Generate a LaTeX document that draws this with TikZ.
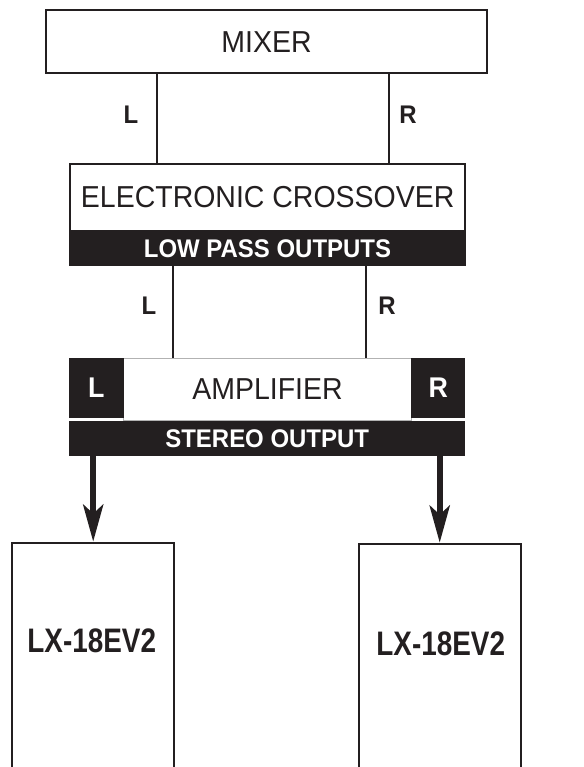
\documentclass[tikz,border=0pt]{standalone}
\usepackage{fontspec}
\setmainfont[FakeStretch=0.94]{Liberation Sans}
\newfontfamily\spkfont[FakeStretch=0.82]{Liberation Sans}
\usetikzlibrary{arrows.meta,positioning}
\definecolor{ink}{HTML}{231F20}

\begin{document}
\begin{tikzpicture}[x=1pt, y=-1pt,
  unit/.style={draw=ink, line width=2pt, fill=white, text=ink,
    font=\fontsize{30.3}{32}\selectfont, inner sep=0pt},
  band/.style={fill=ink, text=white, inner sep=0pt,
    font=\bfseries\fontsize{25.5}{27}\selectfont},
  chan/.style={fill=ink, text=white, inner sep=0pt,
    font=\bfseries\fontsize{28.5}{30}\selectfont},
  side/.style={text=ink, font=\bfseries\fontsize{25.5}{27}\selectfont},
  wire/.style={draw=ink, line width=2pt},
  feed/.style={draw=ink, line width=6pt,
    -{Stealth[length=37pt, width=20pt, inset=9pt]}},
  spk/.style={draw=ink, line width=2pt, anchor=north, inner sep=0pt,
    minimum width=161.7pt, minimum height=260pt},
  spktext/.style={text=ink, font=\spkfont\bfseries\fontsize{34}{36}\selectfont},
]
\useasboundingbox (0,0) rectangle (583,767);
\clip (0,0) rectangle (583,767);

% Mixer
\node[unit, minimum width=441.6pt, minimum height=63.3pt] (mixer) at (266.5,41.7) {MIXER};

% Electronic crossover
\node[unit, minimum width=395.3pt, minimum height=67pt] (xover) at (267.7,197.5) {ELECTRONIC CROSSOVER};
\node[band, minimum width=397pt, minimum height=34.7pt] (lowpass) at (267.5,248.3) {LOW PASS OUTPUTS};

% Mixer to crossover
\coordinate (mL) at (157.3,0);
\coordinate (mR) at (388.7,0);
\draw[wire] (mixer.south -| mL) -- node[side, pos=0.45, left=14.7pt] {L} (xover.north -| mL);
\draw[wire] (mixer.south -| mR) -- node[side, pos=0.46, right=6.3pt] {R} (xover.north -| mR);

% Amplifier
\node[unit, draw=gray!60, line width=1pt, minimum width=287.6pt, minimum height=62pt] (amp) at (267.5,389) {AMPLIFIER};
\node[chan, minimum width=54.7pt, minimum height=60pt] (ampL) at (96.4,388) {L};
\node[chan, minimum width=54pt, minimum height=60pt] (ampR) at (438.3,388) {R};
\node[band, minimum width=396.3pt, minimum height=34.7pt] (stereo) at (267.2,438.3) {STEREO OUTPUT};

% Crossover to amplifier
\coordinate (xL) at (173.3,0);
\coordinate (xR) at (366.3,0);
\draw[wire] (lowpass.south -| xL) -- node[side, pos=0.44, left=12.6pt] {L} (amp.north -| xL);
\draw[wire] (lowpass.south -| xR) -- node[side, pos=0.43, right=7.7pt] {R} (amp.north -| xR);

% Speakers
\node[spk] (spkL) at (93.2,541.7) {};
\node[spk] (spkR) at (439.7,542.7) {};
\node[spktext] (spkLname) at (91.7,640.5) {LX-18EV2};
\node[spktext] (spkRname) at (440.7,643.5) {LX-18EV2};

% Amplifier to speakers
\draw[feed] (stereo.south -| spkL.north) -- (spkL.north);
\draw[feed] (stereo.south -| spkR.north) -- (spkR.north);

\end{tikzpicture}
\end{document}
